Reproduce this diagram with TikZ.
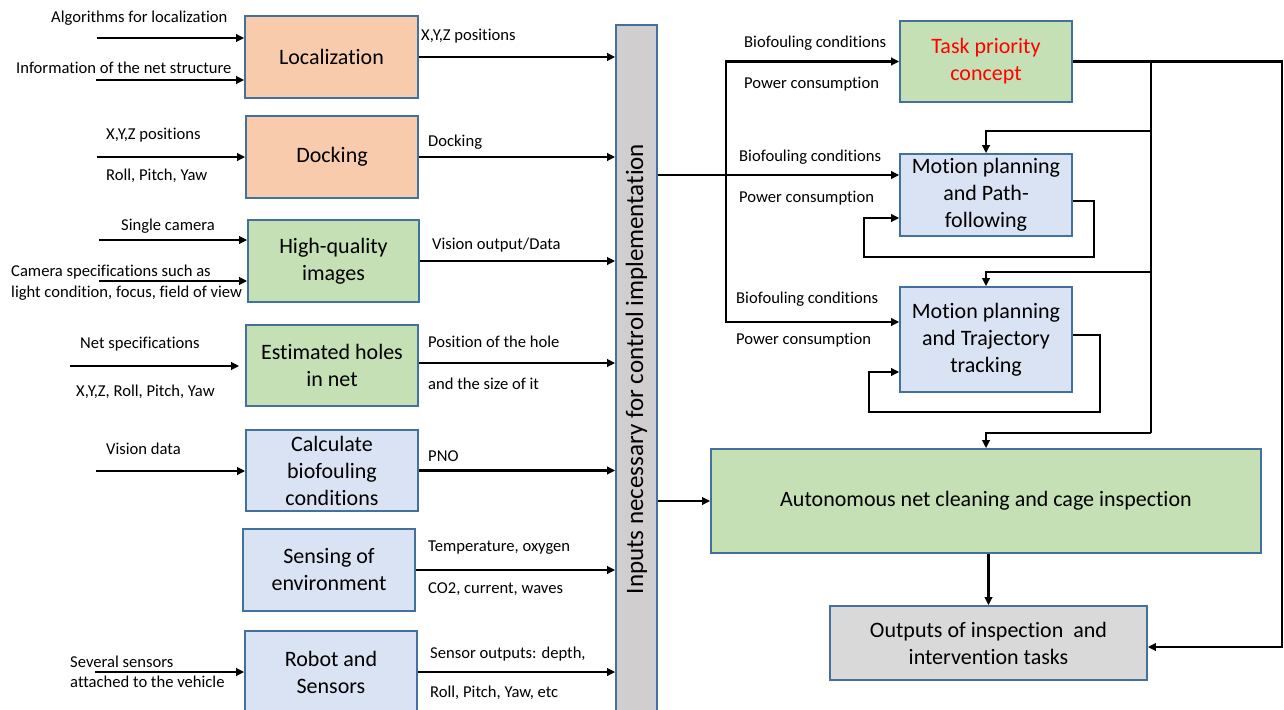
\documentclass[tikz,border=0pt]{standalone}
\usepackage{fontspec}
\setmainfont{Carlito}[Ligatures=NoCommon]
\usetikzlibrary{arrows.meta}
\definecolor{peach}{HTML}{F8CBAD}
\definecolor{leaf}{HTML}{C5E0B4}
\definecolor{sky}{HTML}{DAE3F3}
\definecolor{bord}{HTML}{41719C}
\definecolor{bargray}{HTML}{D0CECE}
\definecolor{outgray}{HTML}{D9D9D9}
\definecolor{alert}{HTML}{FF0000}
\tikzset{
  box/.style={draw=bord, line width=1.7pt, align=center, inner sep=2pt,
              font=\fontsize{22}{27}\selectfont},
  arr/.style={line width=2.6pt, -{Triangle[length=8pt,width=7.5pt]}},
  wire/.style={line width=2.6pt},
  lbl/.style={anchor=west, inner sep=0pt, align=left,
              font=\fontsize{16.6}{21}\selectfont}
}
\begin{document}
\begin{tikzpicture}[x=1pt,y=-1pt]
\useasboundingbox (0,0) rectangle (1284,709);
\clip (0,0) rectangle (1284,709);

% ---- left column of processing blocks ----
\node[box, fill=peach, minimum width=173, minimum height=82] (loc)   at (331.5,57)  {Localization};
\node[box, fill=peach, minimum width=172, minimum height=82] (dock)  at (332,157)   {Docking};
\node[box, fill=leaf,  minimum width=171, minimum height=82] (hq)    at (333.5,261) {High-quality\\images};
\node[box, fill=leaf,  minimum width=172, minimum height=81] (holes) at (332,365.5) {Estimated holes\\in net};
\node[box, fill=sky,   minimum width=172, minimum height=81] (calc)  at (332,470.5) {Calculate\\biofouling\\conditions};
\node[box, fill=sky,   minimum width=172, minimum height=82] (sense) at (329,570)   {Sensing of\\environment};
\node[box, fill=sky,   minimum width=172, minimum height=82] (robot) at (331,672)   {Robot and\\Sensors};

% ---- central collector bar ----
\node[draw=bord, line width=1.7pt, fill=bargray, minimum width=41, minimum height=688, inner sep=0pt] (bar) at (636.5,369) {};
\node[rotate=90, font=\fontsize{25}{29}\selectfont, inner sep=0pt] (bartext) at (bar.center) {Inputs necessary for control implementation};

% ---- right side blocks ----
\node[box, fill=leaf, minimum width=172, minimum height=81, text=alert] (task) at (986,61.5) {Task priority\\concept};
\node[box, fill=sky,  minimum width=172, minimum height=82]  (mpf)  at (986,195)   {Motion planning\\and Path-\\following};
\node[box, fill=sky,  minimum width=172, minimum height=105] (mtt)  at (986,339.5) {Motion planning\\and Trajectory\\tracking};
\node[box, fill=leaf, minimum width=550, minimum height=104] (auto) at (986,501)   {Autonomous net cleaning and cage inspection};
\node[box, fill=outgray, minimum width=317, minimum height=74] (outs) at (988.5,643) {Outputs of inspection~ and\\intervention tasks};

% ---- external inputs on the left ----
\coordinate (a1) at (97,38);
\coordinate (a2) at (96,80);
\coordinate (a3) at (97,157);
\coordinate (a4) at (99,240);
\coordinate (a5) at (99,281);
\coordinate (a6) at (70,366);
\coordinate (a7) at (96,471);
\coordinate (a8) at (95,672);
\draw[arr] (a1) -- (a1 -| loc.west);
\draw[arr] (a2) -- (a2 -| loc.west);
\draw[arr] (a3) -- (a3 -| dock.west);
\draw[arr] (a4) -- (a4 -| hq.west);
\draw[arr] (a5) -- (a5 -| hq.west);
\draw[arr] (a6) -- ([xshift=-6pt]a6 -| holes.west);
\draw[arr] (a7) -- (a7 -| calc.west);
\draw[arr] (a8) -- (a8 -| robot.west);

\node[lbl] (l1)  at (51,18)  {Algorithms for localization};
\node[lbl] (l2)  at (16,68)  {Information of the net structure};
\node[lbl] (l3)  at (106,135) {X,Y,Z positions};
\node[lbl] (l4)  at (106,176) {Roll, Pitch, Yaw};
\node[lbl] (l5)  at (121,226) {Single camera};
\node[lbl] (l6)  at (11,282.5) {Camera specifications such as\\light condition, focus, field of view};
\node[lbl] (l7)  at (80,344) {Net specifications};
\node[lbl] (l8)  at (76,392) {X,Y,Z, Roll, Pitch, Yaw};
\node[lbl] (l9)  at (106,449) {Vision data};
\node[lbl, font=\fontsize{16.6}{20}\selectfont] (l10) at (70,672) {Several sensors\\attached to the vehicle};

% ---- block outputs into the collector bar ----
\draw[arr] (loc.east)   -- (loc.east -| bar.west);
\draw[arr] (dock.east)  -- (dock.east -| bar.west);
\draw[arr] (hq.east)    -- (hq.east -| bar.west);
\draw[arr] ([yshift=2.5pt]holes.east) -- ([yshift=2.5pt]holes.east -| bar.west);
\draw[arr] (calc.east)  -- (calc.east -| bar.west);
\draw[arr] (sense.east) -- (sense.east -| bar.west);
\draw[arr] (robot.east) -- (robot.east -| bar.west);

\node[lbl] (m1)  at (421,36)  {X,Y,Z positions};
\node[lbl] (m2)  at (428,142) {Docking};
\node[lbl] (m3)  at (432,245) {Vision output/Data};
\node[lbl] (m4)  at (428,342) {Position of the hole};
\node[lbl] (m5)  at (428,384) {and the size of it};
\node[lbl] (m6)  at (428,456) {PNO};
\node[lbl] (m7)  at (428,548) {Temperature, oxygen};
\node[lbl] (m8)  at (428,589) {CO2, current, waves};
\node[lbl] (m9)  at (430,654) {Sensor outputs: depth,};
\node[lbl] (m10) at (430,693) {Roll, Pitch, Yaw, etc};

% ---- distribution from the bar to the planners ----
\coordinate (j1) at (726,175);
\coordinate (j2) at (726,322);
\draw[arr] (bar.east |- j1) -- (j1 -| mpf.west);
\draw[arr] (j1) |- (task.west);
\draw[arr] (j1) -- (j2) -- (j2 -| mtt.west);
\draw[arr] (bar.east |- auto.west) -- (auto.west);

\node[lbl] (r1) at (744,43)  {Biofouling conditions};
\node[lbl] (r2) at (744,84)  {Power consumption};
\node[lbl] (r3) at (739,157) {Biofouling conditions};
\node[lbl] (r4) at (739,198) {Power consumption};
\node[lbl] (r5) at (736,299) {Biofouling conditions};
\node[lbl] (r6) at (736,340) {Power consumption};

% ---- task priority feeding the planners and the outputs ----
\coordinate (b1) at (1151,131);
\coordinate (b2) at (1151,272);
\coordinate (b3) at (1151,433);
\coordinate (rb) at (1282,647);
\draw[wire] (b1 |- task.east) -- (b3);
\draw[arr] (task.east) -| (rb) -- (rb -| outs.east);
\draw[arr] (b1) -| (mpf.north);
\draw[arr] (b2) -| (mtt.north);
\draw[arr] (b3) -| (auto.north);

% ---- feedback loops of the planners ----
\coordinate (f1r) at (1094,257);
\coordinate (f1l) at (864,218);
\draw[arr] ([yshift=-6pt]mpf.east) -| (f1r) -| (f1l) -- (f1l -| mpf.west);
\coordinate (f2r) at (1100,412);
\coordinate (f2l) at (869,372);
\draw[arr] ([yshift=4.5pt]mtt.east) -| (f2r) -| (f2l) -- (f2l -| mtt.west);

% ---- final output ----
\draw[arr] (outs.north |- auto.south) -- (outs.north);
\end{tikzpicture}
\end{document}
